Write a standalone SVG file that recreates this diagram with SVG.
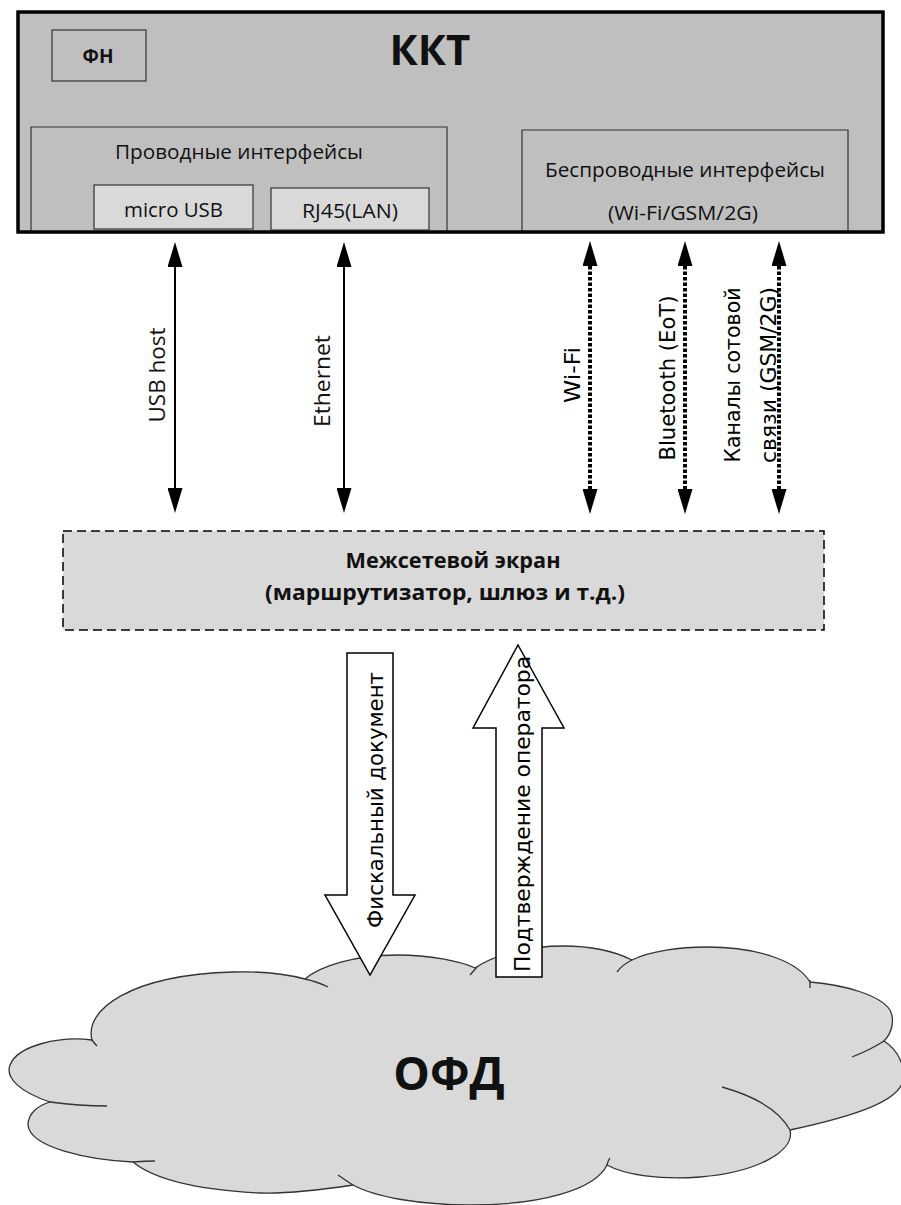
<svg xmlns="http://www.w3.org/2000/svg" width="901" height="1205" viewBox="0 0 901 1205">
<defs>
<style>
.os{font-family:"Open Sans","Liberation Sans",sans-serif;fill:#111}
.dv{font-family:"DejaVu Sans","Liberation Sans",sans-serif;fill:#000;font-size:21px}
.b{font-weight:bold}
.inner{fill:none;stroke:#333;stroke-width:1.2}
.port{fill:#d9d9d9;stroke:#333;stroke-width:1.2}
.solid{stroke:#000;stroke-width:2;fill:none}
.dot{stroke:#000;stroke-width:4;stroke-dasharray:3.5 2;fill:none}
.big{fill:#fff;stroke:#000;stroke-width:1.5;stroke-linejoin:miter}
.cl{fill:none;stroke:#333;stroke-width:1.3}
</style>
<marker id="ah" viewBox="0 0 25 15" refX="0" refY="7.5" markerWidth="25" markerHeight="15" markerUnits="userSpaceOnUse" orient="auto-start-reverse">
<path d="M0,0 L25,7.5 L0,15 z" fill="#000"/>
</marker>
</defs>
<rect width="901" height="1205" fill="#fff"/>

<g id="kkt">
<rect x="18" y="12" width="865" height="220" fill="#bfbfbf" stroke="#000" stroke-width="3"/>
<text class="os b" x="430" y="65" font-size="42" text-anchor="middle" fill="#000">ККТ</text>
</g>

<g id="fn">
<rect x="52" y="30" width="94" height="51" class="inner"/>
<text class="os b" x="98" y="63" font-size="19" text-anchor="middle">ФН</text>
</g>

<g id="wired">
<path d="M31,232 V127 H447 V232" class="inner"/>
<text class="os" x="239" y="159" font-size="20" text-anchor="middle" textLength="248" lengthAdjust="spacingAndGlyphs">Проводные интерфейсы</text>
</g>

<g id="microusb">
<rect x="94" y="185" width="159" height="44" class="port"/>
<text class="os" x="173.5" y="217" font-size="20" text-anchor="middle" textLength="99" lengthAdjust="spacingAndGlyphs">micro USB</text>
</g>

<g id="rj45">
<rect x="271" y="188" width="158" height="42" class="port"/>
<text class="os" x="350" y="218" font-size="20" text-anchor="middle" textLength="96" lengthAdjust="spacingAndGlyphs">RJ45(LAN)</text>
</g>

<g id="wireless">
<path d="M522,232 V130 H848 V232" class="inner"/>
<text class="os" x="685" y="177" font-size="20" text-anchor="middle" textLength="280" lengthAdjust="spacingAndGlyphs">Беспроводные интерфейсы</text>
<text class="os" x="683" y="220" font-size="20" text-anchor="middle" textLength="150" lengthAdjust="spacingAndGlyphs">(Wi-Fi/GSM/2G)</text>
</g>

<g id="kkt-border">
<rect x="18" y="12" width="865" height="220" fill="none" stroke="#000" stroke-width="3"/>
</g>

<g id="firewall">
<rect x="63" y="531" width="761" height="99" fill="#d9d9d9" stroke="#000" stroke-width="1.5" stroke-dasharray="9 5"/>
<text class="os b" x="453" y="568" font-size="21" text-anchor="middle" textLength="215" lengthAdjust="spacingAndGlyphs">Межсетевой экран</text>
<text class="os b" x="445" y="600" font-size="21" text-anchor="middle" textLength="360" lengthAdjust="spacingAndGlyphs">(маршрутизатор, шлюз и т.д.)</text>
</g>

<g id="ofd">
<path d="M92,1040 C84,1010 130,975 233,972 C265,971 290,975 305,979 C320,966 355,955 397,955 C430,955 460,961 475,968 C495,954 530,946 563,946 C595,946 618,953 632,960 C650,951 680,947 707,947 C760,947 798,962 810,982 C845,985 880,995 890,1010 C895,1020 892,1033 884,1041 C898,1050 905,1065 903,1080 C900,1100 860,1115 790,1130 C795,1150 760,1172 700,1177 C660,1180 625,1175 607,1165 C595,1190 540,1205 470,1205 C420,1205 375,1197 353,1185 C320,1190 290,1194 260,1193 C200,1190 155,1180 133,1162 C90,1160 30,1148 28,1125 C28,1112 40,1105 50,1102 C20,1092 5,1078 10,1065 C18,1045 60,1036 92,1040 Z" fill="#d9d9d9" stroke="#333" stroke-width="1.3"/>
<path class="cl" d="M305,979 Q318,982 328,987 M470,975 L477,967 M617,972 Q622,965 632,960 M810,980 L810,988 M884,1041 Q870,1050 852,1057 M722,1087 Q775,1102 790,1130 M607,1165 Q608,1160 610,1158 M353,1185 Q345,1180 338,1175 M133,1162 Q145,1161 155,1161 M50,1102 Q80,1106 107,1106 M92,1040 Q95,1044 97,1046"/>
</g>

<g id="connectors">
<line x1="175" y1="267" x2="175" y2="488" class="solid" marker-start="url(#ah)" marker-end="url(#ah)"/>
<line x1="344" y1="267" x2="344" y2="488" class="solid" marker-start="url(#ah)" marker-end="url(#ah)"/>
<line x1="590" y1="266" x2="590" y2="489" class="dot" marker-start="url(#ah)" marker-end="url(#ah)"/>
<line x1="685" y1="266" x2="685" y2="489" class="dot" marker-start="url(#ah)" marker-end="url(#ah)"/>
<line x1="779" y1="266" x2="779" y2="489" class="dot" marker-start="url(#ah)" marker-end="url(#ah)"/>
<polygon class="big" points="347,653 393,653 393,895 415,895 370,975 325,895 347,895"/>
<polygon class="big" points="518,645 564,728 542,728 542,977 496,977 496,728 473,728"/>
<text class="os" transform="translate(165,375) rotate(-90)" font-size="21" text-anchor="middle" textLength="95" lengthAdjust="spacingAndGlyphs">USB host</text>
<text class="os" transform="translate(330,381) rotate(-90)" font-size="21" text-anchor="middle" textLength="92" lengthAdjust="spacingAndGlyphs">Ethernet</text>
<text class="dv" transform="translate(580,375) rotate(-90)" text-anchor="middle" textLength="56" lengthAdjust="spacingAndGlyphs">Wi-Fi</text>
<text class="dv" transform="translate(675,378) rotate(-90)" text-anchor="middle" textLength="165" lengthAdjust="spacingAndGlyphs">Bluetooth (EoT)</text>
<text class="dv" transform="translate(740,375) rotate(-90)" text-anchor="middle" textLength="175" lengthAdjust="spacingAndGlyphs">Каналы сотовой</text>
<text class="dv" transform="translate(776,375) rotate(-90)" text-anchor="middle" textLength="176" lengthAdjust="spacingAndGlyphs">связи (GSM/2G)</text>
<text class="dv" transform="translate(383,800) rotate(-90)" text-anchor="middle" textLength="256" lengthAdjust="spacingAndGlyphs">Фискальный документ</text>
<text class="dv" transform="translate(530,814) rotate(-90)" text-anchor="middle" textLength="316" lengthAdjust="spacingAndGlyphs">Подтверждение оператора</text>
</g>

<g id="ofd-label">
<text class="os b" x="449" y="1090" font-size="46" text-anchor="middle" fill="#000">ОФД</text>
</g>
</svg>
